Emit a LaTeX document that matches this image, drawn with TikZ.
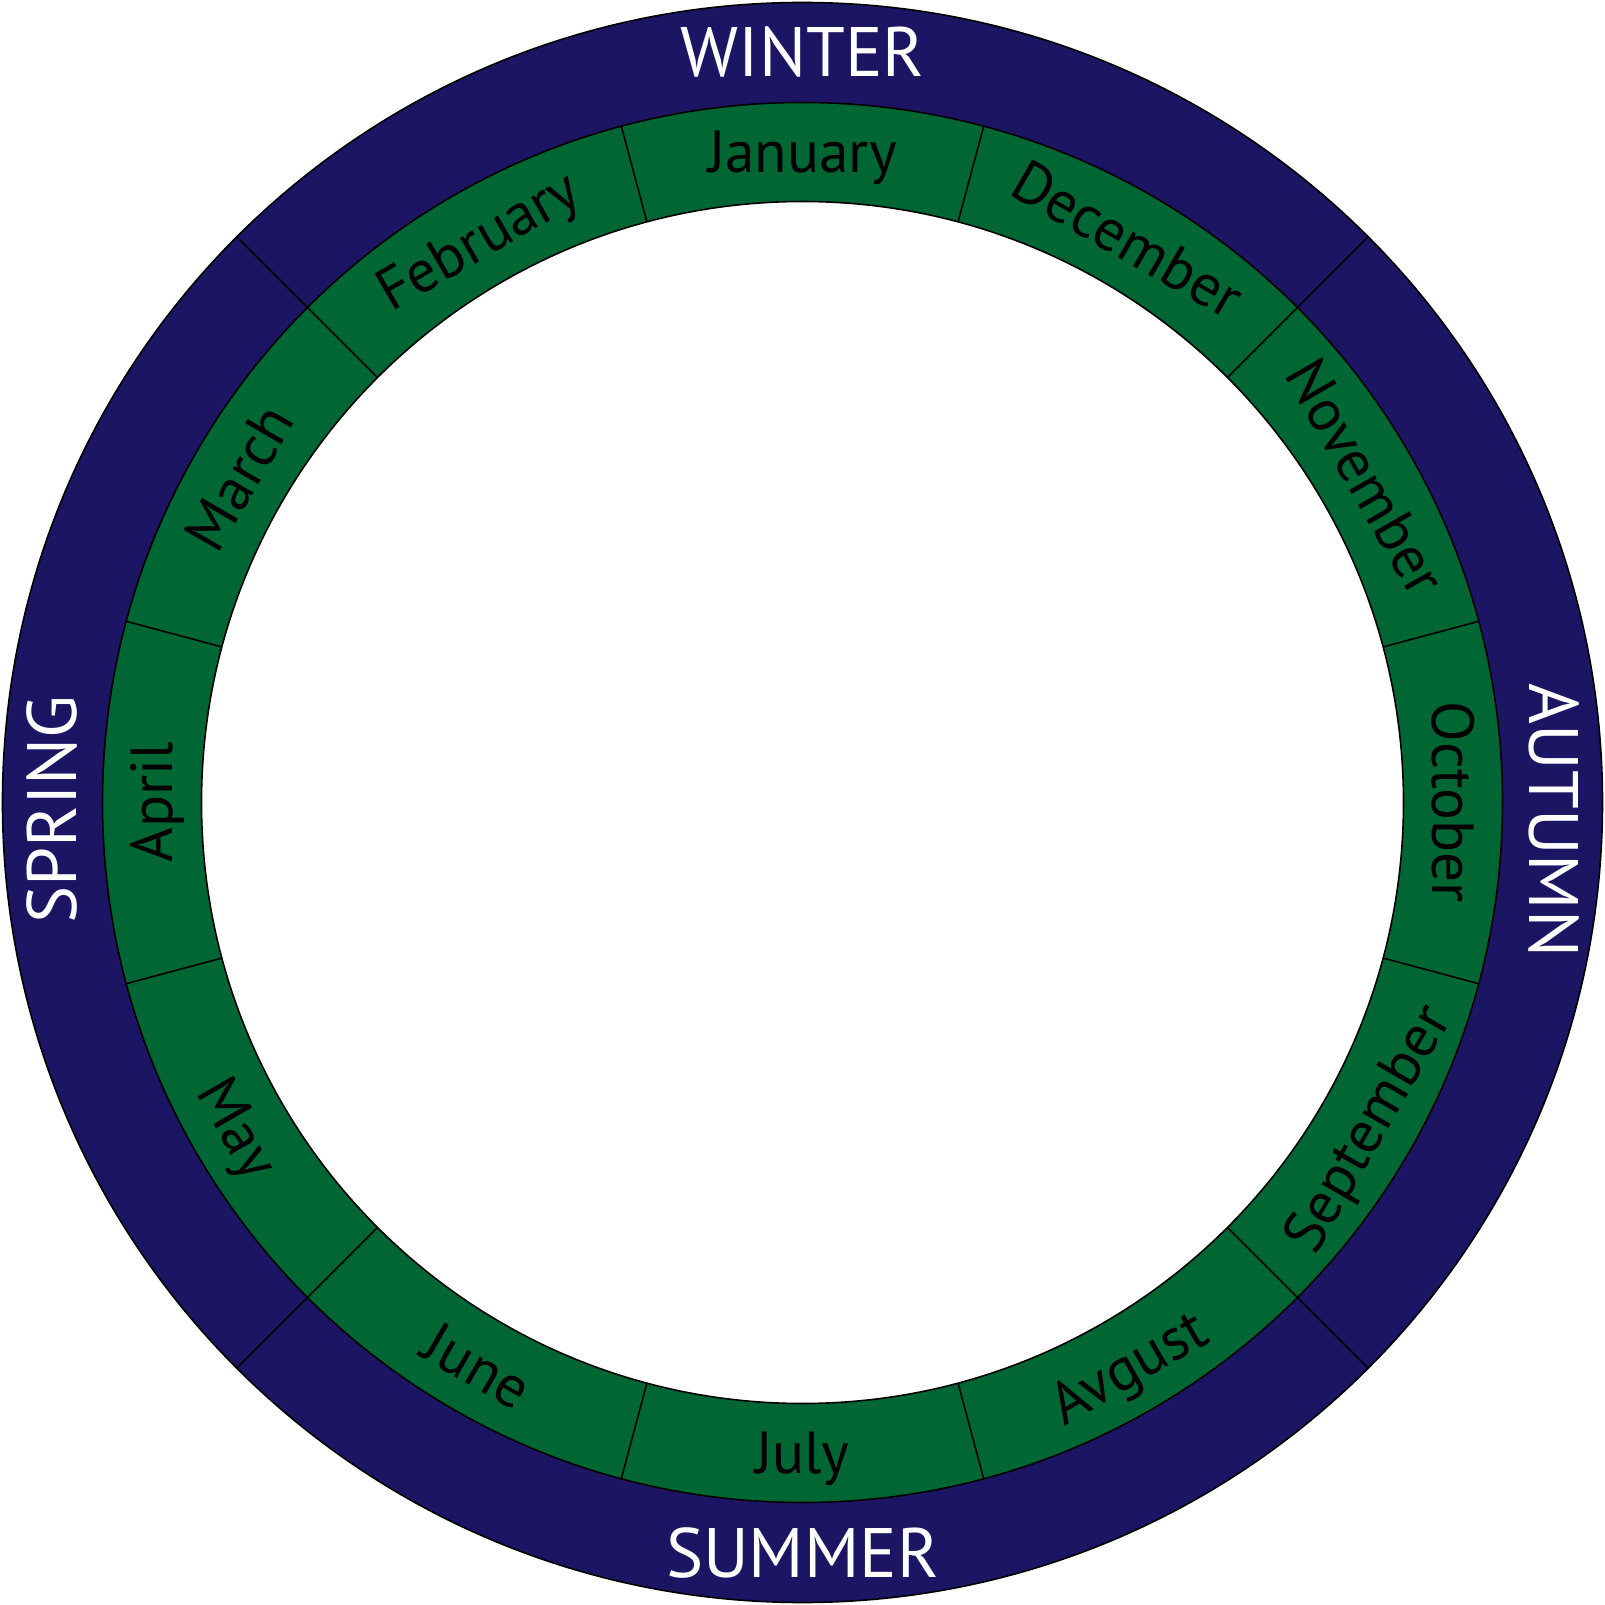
\documentclass[tikz,border=0pt]{standalone}
\usepackage{fontspec}
\setmainfont{PT Sans}
\definecolor{navy}{HTML}{1C1564}
\definecolor{grn}{HTML}{006633}
\tikzset{
  ring/.style={draw=black, line width=0.8pt},
  divider/.style={draw=black, line width=0.8pt},
  month/.style={font=\fontsize{29.7}{29.7}\selectfont, text=black, inner sep=0pt, text height=20.5pt, text depth=0pt, anchor=center},
  season/.style={font=\fontsize{35}{35}\selectfont, text=white, inner sep=0pt, text height=24.5pt, text depth=0pt, anchor=center}
}
\begin{document}
\begin{tikzpicture}[x=0.5pt,y=0.5pt]
\useasboundingbox[fill=white] (-802.5,-802.5) rectangle (802.5,802.5);
\fill[navy] (0,0) circle (800);
\draw[ring] (0,0) circle (800);
\fill[grn] (0,0) circle (700);
\draw[ring] (0,0) circle (700);
\fill[white] (0,0) circle (601);
\draw[ring] (0,0) circle (601);
\foreach \a in {15,75,105,165,195,255,285,345}
  \draw[divider] (\a:601) -- (\a:700);
\foreach \a in {45,135,225,315}
  \draw[divider] (\a:601) -- (\a:800);
\foreach \a/\n/\t in {90/jan/January,120/feb/February,150/mar/March,180/apr/April,210/may/May,240/jun/June,270/jul/July,300/aug/Avgust,330/sep/September,0/oct/October,30/nov/November,60/dec/December}{
  \pgfmathsetmacro\r{ifthenelse(\a<=180,\a-90,\a+90)}
  \node[month,rotate=\r] (\n) at (\a:650.5) {\t};
}
\node[season] (winter) at (0,750) {WINTER};
\node[season,rotate=90] (spring) at (-750,-7) {SPRING};
\node[season] (summer) at (0,-750) {SUMMER};
\node[season,rotate=-90] (autumn) at (751,-18) {AUTUMN};
\end{tikzpicture}
\end{document}
